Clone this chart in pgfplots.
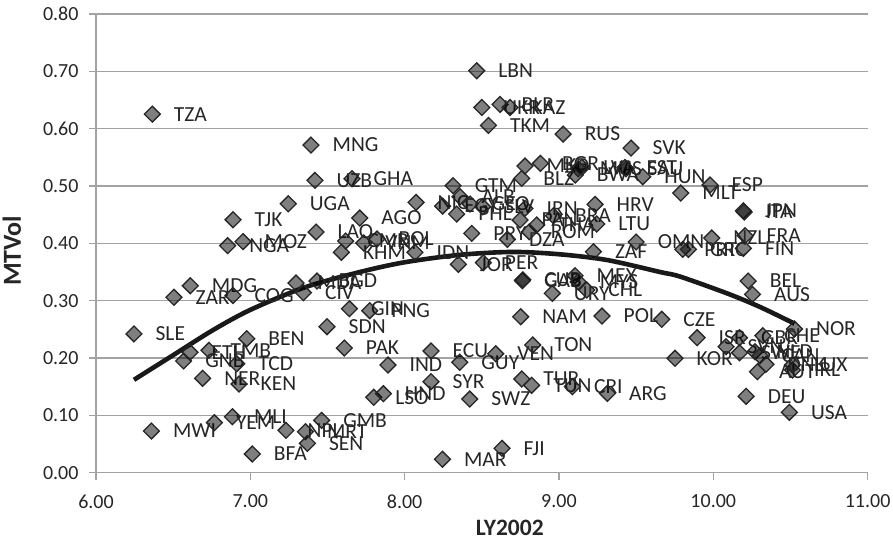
\documentclass[border=0pt]{standalone}
\usepackage{pgfplots}
\pgfplotsset{compat=1.18}
\usepackage{fontspec}
\setmainfont{Carlito}
\definecolor{axgray}{HTML}{A3A3A3}
\definecolor{txt}{HTML}{262626}
\begin{document}
\begin{tikzpicture}[x=1pt,y=1pt]
\useasboundingbox (0,0) rectangle (893,545);
\begin{axis}[
  at={(96pt,72.3pt)}, anchor=south west,
  scale only axis, width=771.6pt, height=458.7pt,
  xmin=6, xmax=11, ymin=0, ymax=0.8,
  axis x line*=bottom, axis y line*=left,
  axis line style={axgray, line width=1.6pt, -},
  xtick={6,7,8,9,10,11},
  ytick={0,0.1,0.2,0.3,0.4,0.5,0.6,0.7,0.8},
  tick align=outside, major tick length=7pt,
  tick style={axgray, line width=1.4pt},
  ymajorgrids, grid style={axgray, line width=1.4pt},
  xticklabel style={yshift=-11.5pt, /pgf/number format/fixed, /pgf/number format/fixed zerofill, /pgf/number format/precision=2, /pgf/number format/assume math mode=true},
  yticklabel style={xshift=-7pt, /pgf/number format/fixed, /pgf/number format/fixed zerofill, /pgf/number format/precision=2, /pgf/number format/assume math mode=true},
  tick label style={font=\fontsize{20}{22}\selectfont, text=txt},
  scaled ticks=false,
  xlabel={\textbf{LY2002}}, ylabel={\textbf{MTVol}},
  xlabel style={xshift=28pt, yshift=-8pt, inner sep=0pt, font=\fontsize{23.5}{25}\selectfont, text=txt},
  ylabel style={xshift=-7.5pt, yshift=15pt, font=\fontsize{26}{28}\selectfont, text=txt},
  clip=false, axis on top=false,
]
\addplot[only marks, mark=square*, mark size=5.6pt,
  mark options={rotate=45, draw=black!85, line width=1.3pt, fill=black, fill opacity=0.5},
  point meta=explicit symbolic,
  nodes near coords,
  every node near coord/.style={anchor=west, xshift=21pt, inner sep=0pt, text=txt, text opacity=1, fill opacity=1, font=\fontsize{21.5}{23}\selectfont},
] table[x=x, y=y, meta=label] {
x y label
6.246 .242 SLE
6.505 .306 ZAR
6.611 .326 MDG
6.888 .309 COG
6.853 .396 NGA
6.953 .403 MOZ
6.609 .210 ETH
6.732 .2134 TMB
6.568 .1948 GNB
6.912 .190 TCD
6.691 .1646 NER
6.927 .1547 KEN
6.977 .2337 BEN
6.359 .0727 MWI
6.767 .0872 YEM
6.884 .0977 MLI
7.013 .0326 BFA
7.231 .0739 NPL
7.357 .0715 MRT
7.37 .0512 SEN
7.462 .0913 GMB
7.609 .2174 PAK
7.497 .2546 SDN
7.642 .286 GIN
7.774 .2825 PNG
7.892 .1878 IND
7.8 .1315 LSO
7.862 .1378 HND
8.171 .1587 SYR
8.171 .2122 ECU
8.357 .1925 GUY
8.245 .0234 MAR
7.296 .3308 MDA
7.344 .3139 CIV
7.432 .3343 BGD
6.365 .6254 TZA
7.393 .5714 MNG
7.419 .5099 UZB
7.659 .5127 GHA
7.246 .469 UGA
6.888 .4412 TJK
7.709 .4441 AGO
7.426 .4197 LAO
7.59 .3843 KHM
7.618 .404 CMR
7.735 .4005 VNM
7.821 .4075 BOL
8.067 .3843 IDN
8.074 .4715 NIC
8.314 .5005 GTM
8.467 .701 LBN
8.5 .637 UKR
8.618 .6423 BLR
8.683 .637 KAZ
8.543 .6057 TKM
9.027 .5906 RUS
9.467 .5662 SVK
8.78 .5348 MKD
8.88 .5395 BGR
8.759 .5133 BLZ
9.106 .5191 BWA
9.148 .5325 LVA
9.125 .5300 MUS
9.428 .5325 EST
9.435 .5300 SAU
9.543 .5162 HUN
8.359 .4813 ALB
8.246 .465 EGY
8.337 .4511 PHL
8.424 .4685 GEO
8.506 .4638 SLV
8.78 .461 IRN
8.748 .4406 PAN
8.856 .432 THA
8.808 .4202 ROM
8.666 .407 DZA
8.435 .4174 PRY
8.964 .4481 BRA
9.234 .468 HRV
9.245 .4337 LTU
9.5 .4023 OMN
9.223 .3854 ZAF
9.979 .5017 ESP
9.789 .4877 MLT
10.195 .4568 JPN
10.2 .4546 ITA
10.206 .4133 FRA
10.195 .3913 FIN
9.99 .4092 NZL
9.802 .3895 PRT
9.839 .3895 GRC
10.226 .3343 BEL
10.254 .311 AUS
10.526 .2506 NOR
9.666 .2675 CZE
9.895 .2355 ISR
9.752 .1995 KOR
10.083 .2197 SVN
10.17 .2355 GBR
10.17 .2092 SWE
10.321 .2389 CHE
10.286 .1761 AUT
10.513 .179 IRL
10.513 .188 LUX
10.342 .189 DNK
10.27 .211 NLD
10.303 .204 CAN
10.213 .1332 DEU
10.493 .1053 USA
8.348 .3634 JOR
8.51 .3662 PER
8.763 .3348 GAB
8.766 .3365 CUB
9.104 .3435 MEX
9.124 .333 MYS
9.18 .3186 CHL
8.957 .3128 URY
8.752 .272 NAM
9.279 .2732 POL
8.83 .2227 TON
8.59 .2075 VEN
8.759 .1634 TUR
8.823 .1524 TUN
9.087 .15 CRI
9.314 .1384 ARG
8.422 .1285 SWZ
8.631 .0425 FJI
};
\addplot[smooth, line width=4.6pt, color=black!90, no marks] coordinates {
(6.246,.162) (6.5,.205) (6.76,.249) (7.0,.284) (7.35,.323) (7.71,.350) (8.0,.367) (8.36,.380) (8.7,.385) (9.0,.381) (9.31,.371) (9.655,.350) (9.785,.342) (10.087,.313) (10.303,.289) (10.526,.260)
};
\end{axis}
\end{tikzpicture}
\end{document}
